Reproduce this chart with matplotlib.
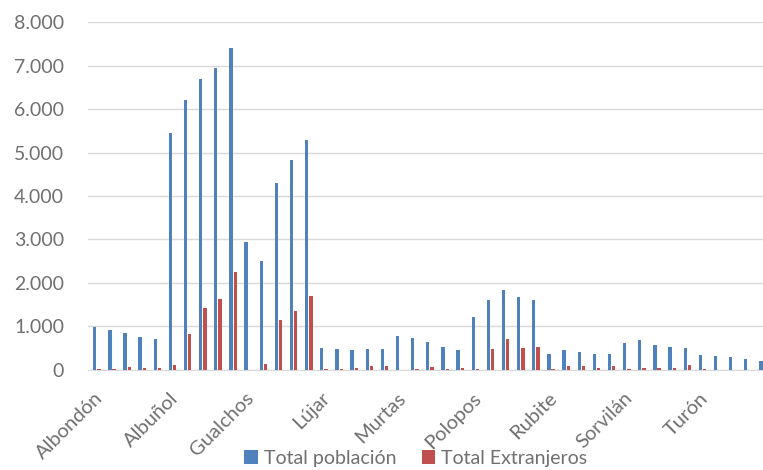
import numpy as np
import matplotlib
matplotlib.use("Agg")
import matplotlib.pyplot as plt
from matplotlib.ticker import FuncFormatter

plt.rcParams['font.family'] = ['Lato', 'DejaVu Sans']

# municipios (each shown over 5 consecutive years)
municipios = ['Albondón', 'Albuñol', 'Gualchos', 'Lújar', 'Murtas',
              'Polopos', 'Rubite', 'Sorvilán', 'Turón']
n_years = 5

total_poblacion = [980, 910, 860, 760, 720,
                   5460, 6210, 6700, 6950, 7410,
                   2950, 2510, 4310, 4820, 5290,
                   515, 490, 450, 490, 475,
                   770, 730, 640, 520, 450,
                   1210, 1610, 1830, 1670, 1610,
                   360, 460, 420, 360, 370,
                   610, 680, 580, 530, 515,
                   340, 320, 285, 240, 200]

total_extranjeros = [10, 10, 60, 40, 50,
                     120, 820, 1420, 1630, 2260,
                     5, 140, 1150, 1360, 1710,
                     10, 25, 35, 90, 100,
                     5, 15, 60, 25, 35,
                     10, 480, 710, 500, 530,
                     30, 80, 80, 40, 80,
                     20, 50, 50, 40, 120,
                     10, 5, 5, 5, 5]

grey = '#707070'
x = np.arange(len(total_poblacion))
w = 0.22

fig = plt.figure(figsize=(7.63, 4.70), dpi=100)
ax = fig.add_axes([0.115, 0.213, 0.885, 0.74])

ax.bar(x - 0.14, total_poblacion, w, color='#4F81BD', label='Total población', zorder=3)
ax.bar(x + 0.14, total_extranjeros, w, color='#C0504D', label='Total Extranjeros', zorder=3)

ax.set_ylim(0, 8000)
ax.set_yticks(range(0, 8001, 1000))
ax.yaxis.set_major_formatter(FuncFormatter(lambda v, p: f'{int(v):,}'.replace(',', '.')))
ax.grid(axis='y', color='#D9D9D9', linewidth=1, zorder=0)
ax.set_xlim(-0.6, 44.0)

ax.set_xticks(x[::n_years] - 0.2)
ax.set_xticklabels(municipios, rotation=45, ha='right', va='top', rotation_mode='anchor')

for s in ['top', 'right', 'left']:
    ax.spines[s].set_visible(False)
ax.spines['bottom'].set_color('#D9D9D9')
ax.tick_params(axis='both', length=0, colors=grey)
ax.tick_params(axis='y', pad=17, labelsize=14)
ax.tick_params(axis='x', pad=14, labelsize=14.5)

fig.legend(loc='lower center', bbox_to_anchor=(0.545, -0.03), ncol=2, frameon=False,
           fontsize=14, labelcolor=grey, handlelength=0.7, handleheight=0.7,
           handletextpad=0.3, columnspacing=1.3)

fig.savefig('out.png', dpi=100)
